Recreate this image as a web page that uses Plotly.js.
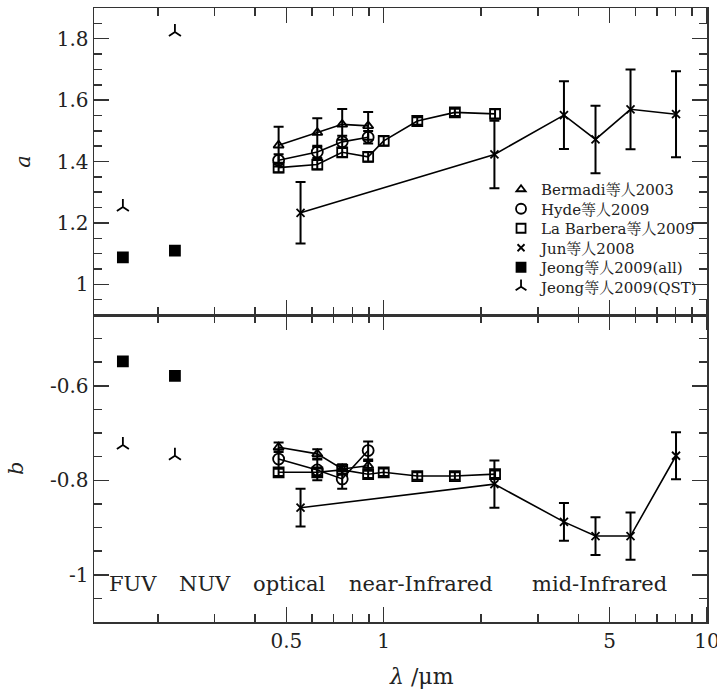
<!DOCTYPE html>
<html>
<head>
<meta charset="utf-8">
<script src="https://cdn.plot.ly/plotly-3.0.1.min.js"></script>
<style>
body{margin:0;padding:0;background:#fff}
#wrap{position:relative;width:717px;height:695px}
#chart{width:717px;height:695px}
#tickOverlay{position:absolute;left:0;top:0;width:717px;height:695px;pointer-events:none;z-index:5}
#tickOverlay div{position:absolute;background:#333}
</style>
</head>
<body>
<div id="wrap"><div id="chart"></div><div id="tickOverlay"></div></div>
<script>
// ---- data ----
const seriesNames = ['Bermadi等人2003', 'Hyde等人2009', 'La Barbera等人2009', 'Jun等人2008', 'Jeong等人2009(all)', 'Jeong等人2009(QST)'];
const lamOpt = [0.473, 0.623, 0.744, 0.895];
const lamLB = [0.473, 0.623, 0.744, 0.895, 1.0, 1.27, 1.66, 2.21];
const lamJun = [0.553, 2.20, 3.61, 4.52, 5.80, 8.02];
const lamJeong = [0.156, 0.226];

const bermadiA = [1.453, 1.494, 1.521, 1.516];
const bermadiAErr = [0.06, 0.047, 0.05, 0.045];
const bermadiB = [-0.730, -0.744, -0.776, -0.769];
const bermadiBErr = [0.01, 0.01, 0.01, 0.01];

const hydeA = [1.404, 1.431, 1.464, 1.479];
const hydeAErr = [0.02, 0.02, 0.02, 0.02];
const hydeB = [-0.755, -0.778, -0.797, -0.737];
const hydeBErr = [0.02, 0.022, 0.021, 0.019];

const lbA = [1.38, 1.39, 1.43, 1.415, 1.467, 1.532, 1.56, 1.555];
const lbAErr = [0.015, 0.015, 0.015, 0.015, 0.015, 0.012, 0.012, 0.015];
const lbB = [-0.783, -0.783, -0.778, -0.787, -0.783, -0.791, -0.791, -0.787];
const lbBErr = [0.008, 0.008, 0.008, 0.008, 0.008, 0.008, 0.008, 0.008];

const junA = [1.233, 1.423, 1.551, 1.472, 1.570, 1.554];
const junAErr = [0.10, 0.11, 0.11, 0.11, 0.13, 0.14];
const junB = [-0.858, -0.808, -0.888, -0.918, -0.918, -0.748];
const junBErr = [0.04, 0.05, 0.04, 0.04, 0.05, 0.05];

const jeongAllA = [1.088, 1.11];
const jeongAllB = [-0.548, -0.579];
const jeongQstA = [1.252, 1.822];
const jeongQstB = [-0.725, -0.748];

const regionLabels = ['FUV', 'NUV', 'optical', 'near-Infrared', 'mid-Infrared'];
const regionLam = [0.168, 0.279, 0.512, 1.30, 4.65];

const xTickVals = [0.5, 1, 5, 10];
const xTickText = ['0.5', '1', '5', '10'];
const xMinorVals = [0.2, 0.3, 0.4, 0.6, 0.7, 0.8, 0.9, 2, 3, 4, 6, 7, 8, 9];
const aTickVals = [1, 1.2, 1.4, 1.6, 1.8];
const aTickText = ['1', '1.2', '1.4', '1.6', '1.8'];
const aMinorVals = [0.95, 1.05, 1.1, 1.15, 1.25, 1.3, 1.35, 1.45, 1.5, 1.55, 1.65, 1.7, 1.75, 1.85];
const bTickVals = [-1, -0.8, -0.6];
const bTickText = ['-1', '-0.8', '-0.6'];
const bMinorVals = [-1.05, -0.95, -0.9, -0.85, -0.75, -0.7, -0.65, -0.55, -0.5];

// ---- styling ----
const K = '#000';
const AX = '#333';
const SERIF = 'DejaVu Serif, "Noto Serif CJK SC", "Noto Sans CJK SC", serif';
const lineW = 1.6;
const MAJOR_LEN = 15, MINOR_LEN = 8, TICK_W = 1.5;
function err(arr) { return {type: 'data', array: arr, visible: true, color: K, thickness: 2, width: 5}; }

const styles = [
  {symbol: 'triangle-up-open', size: 9},
  {symbol: 'circle-open', size: 11},
  {symbol: 'square-open', size: 10},
  {symbol: 'x-thin-open', size: 8},
  {symbol: 'square', size: 10},
  {symbol: 'y-up-open', size: 10}
];
function mk(i) { const s = styles[i]; return {symbol: s.symbol, size: s.size, color: K, line: {color: K, width: 1.8}}; }

const traces = [];
function addPanel(xa, ya, bA, hA, lA, jA, jeA, jqA, be, he, le, je) {
  traces.push({x: lamOpt, y: bA, xaxis: xa, yaxis: ya, mode: 'lines+markers', line: {color: K, width: lineW}, marker: mk(0), error_y: err(be), showlegend: false});
  traces.push({x: lamOpt, y: hA, xaxis: xa, yaxis: ya, mode: 'lines+markers', line: {color: K, width: lineW}, marker: mk(1), error_y: err(he), showlegend: false});
  traces.push({x: lamLB, y: lA, xaxis: xa, yaxis: ya, mode: 'lines+markers', line: {color: K, width: lineW}, marker: mk(2), error_y: err(le), showlegend: false});
  traces.push({x: lamJun, y: jA, xaxis: xa, yaxis: ya, mode: 'lines+markers', line: {color: K, width: lineW}, marker: mk(3), error_y: err(je), showlegend: false});
  traces.push({x: lamJeong, y: jeA, xaxis: xa, yaxis: ya, mode: 'markers', marker: mk(4), showlegend: false});
  traces.push({x: lamJeong, y: jqA, xaxis: xa, yaxis: ya, mode: 'markers', marker: mk(5), showlegend: false});
}
addPanel('x2', 'y', bermadiA, hydeA, lbA, junA, jeongAllA, jeongQstA, bermadiAErr, hydeAErr, lbAErr, junAErr);
addPanel('x', 'y2', bermadiB, hydeB, lbB, junB, jeongAllB, jeongQstB, bermadiBErr, hydeBErr, lbBErr, junBErr);

// legend-only traces, one legend each so the row spacing can match
const legendRowsPx = [189.5, 209, 228.5, 248, 267.5, 287];
const layoutLegends = {};
seriesNames.forEach(function (name, i) {
  const m = mk(i);
  m.size = styles[i].size - 1;
  const key = i === 0 ? 'legend' : 'legend' + (i + 1);
  traces.push({x: [null], y: [null], xaxis: 'x2', yaxis: 'y', mode: 'markers', name: name, marker: m, showlegend: true, legend: key});
  layoutLegends[key] = {
    x: 0.664, y: (622 - legendRowsPx[i]) / 614, xanchor: 'left', yanchor: 'middle',
    bgcolor: 'rgba(0,0,0,0)', borderwidth: 0,
    font: {family: SERIF, size: 15, color: '#222'}, itemwidth: 30
  };
});

const xRange = [Math.log10(0.127), 1];
const axCommon = {
  showline: true, linecolor: AX, linewidth: 1.5, mirror: 'ticks',
  ticks: 'inside', ticklen: MAJOR_LEN, tickwidth: TICK_W, tickcolor: AX,
  showgrid: false, zeroline: false,
  tickfont: {family: SERIF, size: 20, color: '#222'}
};
const xMajor = Object.assign({}, axCommon, {
  type: 'log', range: xRange, tickmode: 'array', tickvals: xTickVals, ticktext: xTickText,
  ticklabeloverflow: 'allow'
});

const layout = Object.assign({
  width: 717, height: 695,
  margin: {l: 94, r: 10, t: 8, b: 73},
  showlegend: true,
  xaxis: Object.assign({}, xMajor, {anchor: 'y2', domain: [0, 1]}),
  xaxis2: Object.assign({}, xMajor, {anchor: 'y', domain: [0, 1], showticklabels: false}),
  yaxis: Object.assign({}, axCommon, {domain: [0.5, 1], range: [0.9, 1.9], tickmode: 'array', tickvals: aTickVals, ticktext: aTickText}),
  yaxis2: Object.assign({}, axCommon, {domain: [0, 0.5], range: [-1.1, -0.45], tickmode: 'array', tickvals: bTickVals, ticktext: bTickText}),
  annotations: [
    {text: '<i>a</i>', xref: 'paper', yref: 'paper', x: -0.117, y: 0.75, textangle: -90, showarrow: false, xanchor: 'center', yanchor: 'middle', font: {family: SERIF, size: 21, color: '#222'}},
    {text: '<i>b</i>', xref: 'paper', yref: 'paper', x: -0.128, y: 0.25, textangle: -90, showarrow: false, xanchor: 'center', yanchor: 'middle', font: {family: SERIF, size: 21, color: '#222'}},
    {text: '<i>λ</i> /μm', xref: 'paper', yref: 'paper', x: 0.535, y: -0.089, showarrow: false, xanchor: 'center', yanchor: 'middle', font: {family: SERIF, size: 22, color: '#222'}}
  ]
}, layoutLegends);
regionLabels.forEach(function (t, i) {
  layout.annotations.push({text: t, xref: 'x', yref: 'paper', x: Math.log10(regionLam[i]), y: 0.062, showarrow: false, xanchor: 'center', yanchor: 'middle', font: {family: SERIF, size: 21, color: '#222'}});
});

// tick marks painted from the axes' own scales after drawing
function drawTickOverlay(gd) {
  const fl = gd._fullLayout;
  const box = document.getElementById('tickOverlay');
  box.innerHTML = '';
  function bar(left, top, w, h) {
    const d = document.createElement('div');
    d.style.left = left + 'px'; d.style.top = top + 'px';
    d.style.width = w + 'px'; d.style.height = h + 'px';
    box.appendChild(d);
  }
  function pix(ax, v) { return ax._offset + ax.l2p(ax.d2l(v)); }
  // x ticks: each x axis, on the bottom and top of its panel
  [[fl.xaxis, fl.yaxis2], [fl.xaxis2, fl.yaxis]].forEach(function (pair) {
    const xa = pair[0], ya = pair[1];
    const yBottom = ya._offset + ya._length, yTop = ya._offset;
    [[xTickVals, MAJOR_LEN], [xMinorVals, MINOR_LEN]].forEach(function (set) {
      set[0].forEach(function (v) {
        const px = pix(xa, v);
        if (px < xa._offset - 0.5 || px > xa._offset + xa._length + 0.5) return;
        bar(px - TICK_W / 2, yBottom - set[1], TICK_W, set[1]);
        bar(px - TICK_W / 2, yTop, TICK_W, set[1]);
      });
    });
  });
  // y ticks: each y axis, on the left and right of its panel
  [[fl.yaxis, aTickVals, aMinorVals], [fl.yaxis2, bTickVals, bMinorVals]].forEach(function (grp) {
    const ya = grp[0];
    const xLeft = fl.xaxis._offset, xRight = fl.xaxis._offset + fl.xaxis._length;
    [[grp[1], MAJOR_LEN], [grp[2], MINOR_LEN]].forEach(function (set) {
      set[0].forEach(function (v) {
        const py = pix(ya, v);
        bar(xLeft, py - TICK_W / 2, set[1], TICK_W);
        bar(xRight - set[1], py - TICK_W / 2, set[1], TICK_W);
      });
    });
  });
}

Plotly.newPlot('chart', traces, layout, {staticPlot: true}).then(drawTickOverlay);
</script>
</body>
</html>
